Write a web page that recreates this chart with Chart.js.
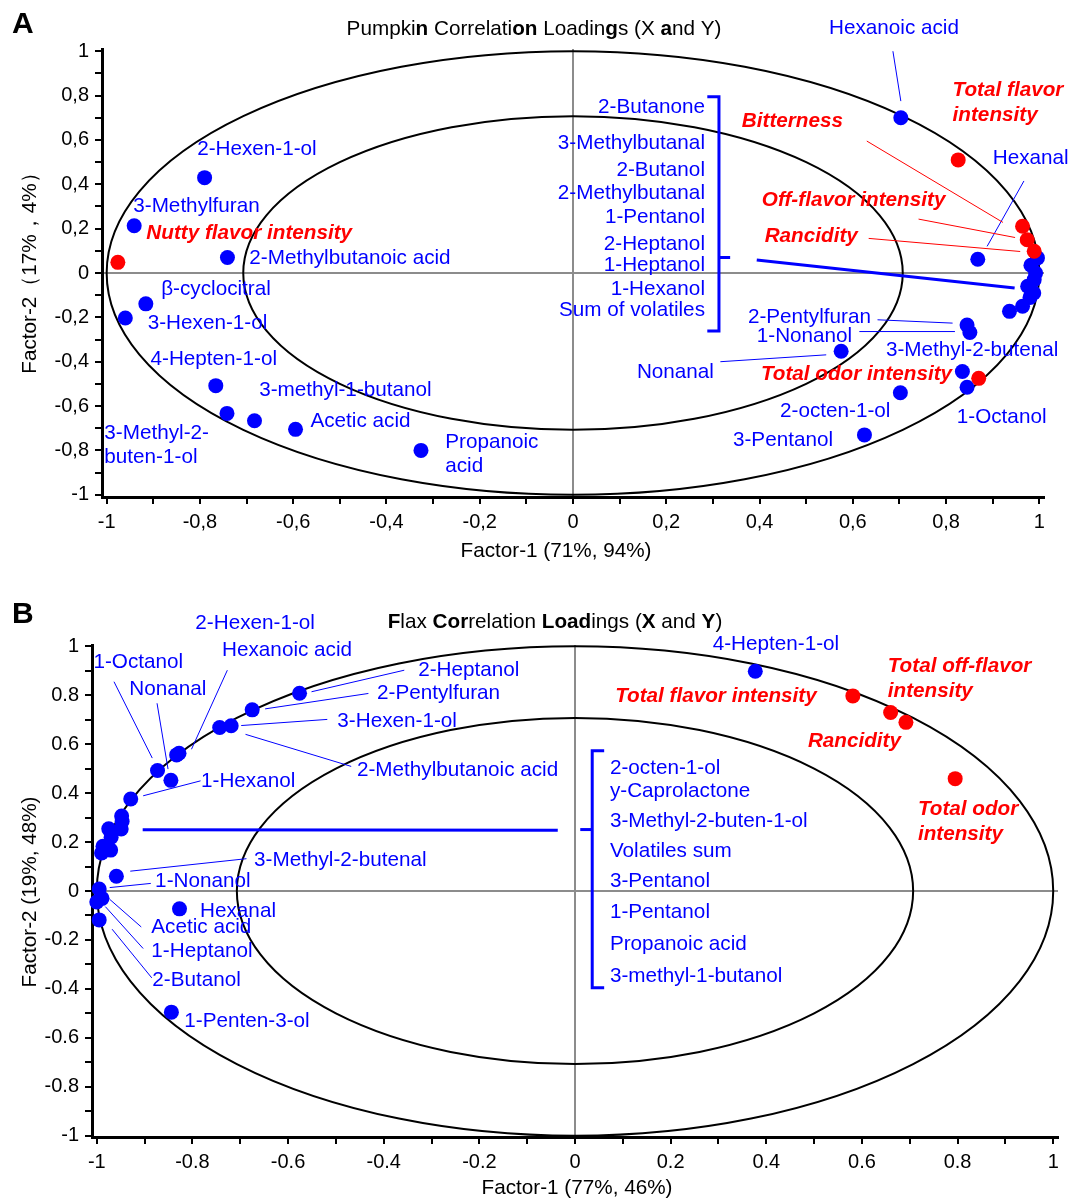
<!DOCTYPE html>
<html>
<head>
<meta charset="utf-8">
<script src="https://cdn.jsdelivr.net/npm/chart.js@4.4.1/dist/chart.umd.min.js"></script>
<style>
  body { margin: 0; background: #fff; }
  canvas { display: block; }
</style>
</head>
<body>
<canvas id="chartA" width="1069" height="590"></canvas>
<canvas id="chartB" width="1069" height="610"></canvas>
<script>
// ---- Panel A: pumpkin loadings ----
const aVolatileX = [0.703, -0.790, -0.941, -0.741, -0.916, -0.960, -0.766, -0.742, -0.683, -0.595, -0.326,
  0.868, 0.575, 0.845, 0.851, 0.835, 0.845, 0.702, 0.625,
  0.982, 0.996, 0.992, 0.989, 0.975, 0.988, 0.980, 0.964, 0.936];
const aVolatileY = [0.700, 0.430, 0.213, 0.070, -0.139, -0.203, -0.508, -0.633, -0.666, -0.705, -0.800,
  0.062, -0.353, -0.235, -0.268, -0.444, -0.515, -0.540, -0.730,
  0.035, 0.068, 0.000, -0.030, -0.060, -0.090, -0.110, -0.150, -0.173];
const aSensoryX = [-0.976, 0.826, 0.964, 0.974, 0.989, 0.870];
const aSensoryY = [0.048, 0.510, 0.211, 0.150, 0.098, -0.475];

// ---- Panel B: flax loadings ----
const bVolatileX = [-0.576, -0.675, -0.743, -0.719, -0.833, -0.828, -0.873, -0.845, -0.929, -0.948, -0.947,
  -0.949, -0.975, -0.970, -0.987, -0.990, -0.971, -0.959, -0.995, -0.989, -1.000, -0.995, -0.827, -0.844, 0.377];
const bVolatileY = [0.808, 0.740, 0.668, 0.675, 0.556, 0.563, 0.492, 0.452, 0.376, 0.306, 0.284,
  0.253, 0.254, 0.220, 0.183, 0.155, 0.167, 0.060, 0.008, -0.030, -0.045, -0.118, -0.073, -0.495, 0.898];
const bSensoryX = [0.581, 0.660, 0.692, 0.795];
const bSensoryY = [0.797, 0.729, 0.689, 0.459];

// ticks and reference circles (100% and 50% explained variance)
const tickValues = [-1, -0.9, -0.8, -0.7, -0.6, -0.5, -0.4, -0.3, -0.2, -0.1, 0,
  0.1, 0.2, 0.3, 0.4, 0.5, 0.6, 0.7, 0.8, 0.9, 1];
const tickLabelsA = ['-1', '', '-0,8', '', '-0,6', '', '-0,4', '', '-0,2', '', '0',
  '', '0,2', '', '0,4', '', '0,6', '', '0,8', '', '1'];
const tickLabelsB = ['-1', '', '-0.8', '', '-0.6', '', '-0.4', '', '-0.2', '', '0',
  '', '0.2', '', '0.4', '', '0.6', '', '0.8', '', '1'];
const circleRadii = [1, 0.7071];

const FONT = '"Liberation Sans", Arial, Helvetica, sans-serif';
const TXT = '20.7px ';
const BLUE = '#0000ff';
const RED = '#ff0000';

// label annotations: [text, x, y, kind]  kind: b = blue, r = red bold italic, bR = blue right aligned
const aLabels = [
  ['Hexanoic acid', 0.549, 1.102, 'b'],
  ['Total flavor', 0.814, 0.826, 'r'], ['intensity', 0.814, 0.713, 'r'],
  ['Bitterness', 0.362, 0.686, 'r'],
  ['Hexanal', 0.900, 0.515, 'b'],
  ['Off-flavor intensity', 0.405, 0.330, 'r'],
  ['Rancidity', 0.411, 0.167, 'r'],
  ['2-Pentylfuran', 0.375, -0.199, 'b'],
  ['1-Nonanol', 0.394, -0.284, 'b'],
  ['3-Methyl-2-butenal', 0.671, -0.348, 'b'],
  ['Nonanal', 0.137, -0.447, 'b'],
  ['Total odor intensity', 0.403, -0.456, 'r'],
  ['1-Octanol', 0.823, -0.650, 'b'],
  ['2-octen-1-ol', 0.444, -0.623, 'b'],
  ['3-Pentanol', 0.343, -0.754, 'b'],
  ['2-Hexen-1-ol', -0.806, 0.560, 'b'],
  ['3-Methylfuran', -0.943, 0.302, 'b'],
  ['Nutty flavor intensity', -0.915, 0.181, 'r'],
  ['2-Methylbutanoic acid', -0.694, 0.068, 'b'],
  ['\u03b2-cyclocitral', -0.883, -0.074, 'b'],
  ['3-Hexen-1-ol', -0.912, -0.226, 'b'],
  ['4-Hepten-1-ol', -0.906, -0.390, 'b'],
  ['3-methyl-1-butanol', -0.673, -0.530, 'b'],
  ['Acetic acid', -0.563, -0.670, 'b'],
  ['3-Methyl-2-', -1.005, -0.723, 'b'], ['buten-1-ol', -1.005, -0.832, 'b'],
  ['Propanoic', -0.274, -0.762, 'b'], ['acid', -0.274, -0.872, 'b'],
  ['2-Butanone', 0.283, 0.749, 'bR'],
  ['3-Methylbutanal', 0.283, 0.587, 'bR'],
  ['2-Butanol', 0.283, 0.465, 'bR'],
  ['2-Methylbutanal', 0.283, 0.361, 'bR'],
  ['1-Pentanol', 0.283, 0.253, 'bR'],
  ['2-Heptanol', 0.283, 0.131, 'bR'],
  ['1-Heptanol', 0.283, 0.036, 'bR'],
  ['1-Hexanol', 0.283, -0.072, 'bR'],
  ['Sum of volatiles', 0.283, -0.167, 'bR']
];
// leader lines: [x1, y1, x2, y2, colour, width]
const aLines = [
  [0.686, 1.0, 0.703, 0.775, BLUE, 1],
  [0.967, 0.415, 0.888, 0.120, BLUE, 1],
  [0.630, 0.595, 0.922, 0.228, RED, 1],
  [0.741, 0.243, 0.948, 0.160, RED, 1],
  [0.634, 0.156, 0.959, 0.097, RED, 1],
  [0.653, -0.211, 0.814, -0.226, BLUE, 1],
  [0.614, -0.264, 0.819, -0.264, BLUE, 1],
  [0.316, -0.400, 0.543, -0.369, BLUE, 1],
  [0.394, 0.059, 0.947, -0.068, BLUE, 3],
  [0.313, 0.070, 0.337, 0.070, BLUE, 3]
];
const aBracket = [[0.288, 0.795], [0.313, 0.795], [0.313, -0.262], [0.288, -0.262]];

const bLabels = [
  ['2-Hexen-1-ol', -0.794, 1.094, 'b'],
  ['Hexanoic acid', -0.738, 0.984, 'b'],
  ['1-Octanol', -1.007, 0.935, 'b'],
  ['Nonanal', -0.932, 0.824, 'b'],
  ['2-Heptanol', -0.328, 0.902, 'b'],
  ['2-Pentylfuran', -0.414, 0.808, 'b'],
  ['3-Hexen-1-ol', -0.497, 0.694, 'b'],
  ['2-Methylbutanoic acid', -0.456, 0.494, 'b'],
  ['1-Hexanol', -0.782, 0.449, 'b'],
  ['3-Methyl-2-butenal', -0.671, 0.127, 'b'],
  ['1-Nonanol', -0.878, 0.041, 'b'],
  ['Hexanal', -0.784, -0.082, 'b'],
  ['Acetic acid', -0.886, -0.147, 'b'],
  ['1-Heptanol', -0.886, -0.245, 'b'],
  ['2-Butanol', -0.884, -0.363, 'b'],
  ['1-Penten-3-ol', -0.817, -0.531, 'b'],
  ['4-Hepten-1-ol', 0.288, 1.008, 'b'],
  ['Total flavor intensity', 0.084, 0.796, 'r'],
  ['Total off-flavor', 0.654, 0.918, 'r'], ['intensity', 0.654, 0.816, 'r'],
  ['Rancidity', 0.487, 0.612, 'r'],
  ['Total odor', 0.717, 0.335, 'r'], ['intensity', 0.717, 0.233, 'r'],
  ['2-octen-1-ol', 0.073, 0.502, 'b'],
  ['y-Caprolactone', 0.073, 0.408, 'b'],
  ['3-Methyl-2-buten-1-ol', 0.073, 0.286, 'b'],
  ['Volatiles sum', 0.073, 0.163, 'b'],
  ['3-Pentanol', 0.073, 0.041, 'b'],
  ['1-Pentanol', 0.073, -0.086, 'b'],
  ['Propanoic acid', 0.073, -0.216, 'b'],
  ['3-methyl-1-butanol', 0.073, -0.347, 'b']
];
const bLines = [
  [-0.964, 0.855, -0.884, 0.543, BLUE, 1],
  [-0.874, 0.767, -0.851, 0.498, BLUE, 1],
  [-0.727, 0.902, -0.802, 0.579, BLUE, 1],
  [-0.357, 0.902, -0.551, 0.814, BLUE, 1],
  [-0.432, 0.807, -0.648, 0.744, BLUE, 1],
  [-0.518, 0.701, -0.698, 0.676, BLUE, 1],
  [-0.468, 0.509, -0.689, 0.640, BLUE, 1],
  [-0.783, 0.450, -0.903, 0.389, BLUE, 1],
  [-0.687, 0.132, -0.930, 0.081, BLUE, 1],
  [-0.887, 0.031, -0.973, 0.014, BLUE, 1],
  [-0.907, -0.147, -0.973, -0.034, BLUE, 1],
  [-0.903, -0.235, -0.982, -0.064, BLUE, 1],
  [-0.885, -0.355, -0.968, -0.156, BLUE, 1],
  [-0.904, 0.250, -0.036, 0.248, BLUE, 3],
  [0.011, 0.251, 0.036, 0.251, BLUE, 3]
];
const bBracket = [[0.061, 0.573], [0.036, 0.573], [0.036, -0.395], [0.061, -0.395]];

function toPoints(xs, ys) {
  return xs.map((v, i) => ({ x: v, y: ys[i] }));
}

function decor(cfg) {
  return {
    id: 'decor',
    beforeDatasetsDraw(chart) {
      const { ctx, scales: { x, y } } = chart;
      const cx = x.getPixelForValue(0), cy = y.getPixelForValue(0);
      ctx.save();
      ctx.strokeStyle = '#000';
      ctx.lineWidth = 2;
      circleRadii.forEach(r => {
        ctx.beginPath();
        ctx.ellipse(cx, cy, x.getPixelForValue(r) - cx, cy - y.getPixelForValue(r), 0, 0, Math.PI * 2);
        ctx.stroke();
      });
      ctx.restore();
    },
    afterDatasetsDraw(chart) {
      const { ctx, scales: { x, y } } = chart;
      const px = v => x.getPixelForValue(v);
      const py = v => y.getPixelForValue(v);
      ctx.save();
      cfg.lines.forEach(([x1, y1, x2, y2, col, w]) => {
        ctx.strokeStyle = col;
        ctx.lineWidth = w;
        ctx.beginPath();
        ctx.moveTo(px(x1), py(y1));
        ctx.lineTo(px(x2), py(y2));
        ctx.stroke();
      });
      // bracket
      ctx.strokeStyle = BLUE;
      ctx.lineWidth = 3;
      ctx.beginPath();
      cfg.bracket.forEach(([bx, by], i) => i ? ctx.lineTo(px(bx), py(by)) : ctx.moveTo(px(bx), py(by)));
      ctx.stroke();
      // labels
      ctx.textBaseline = 'middle';
      cfg.labels.forEach(([t, lx, ly, kind]) => {
        const red = kind[0] === 'r';
        ctx.font = (red ? 'italic bold ' : '') + TXT + FONT;
        ctx.fillStyle = red ? RED : BLUE;
        ctx.textAlign = kind.endsWith('R') ? 'right' : 'left';
        ctx.fillText(t, px(lx), py(ly));
      });
      ctx.restore();
    },
    afterDraw(chart) {
      const ctx = chart.ctx;
      ctx.save();
      ctx.fillStyle = '#000';
      ctx.textBaseline = 'middle';
      // panel letter
      ctx.font = 'bold 30px ' + FONT;
      ctx.textAlign = 'left';
      ctx.fillText(cfg.letter, 12, cfg.letterY);
      // title with mixed weight fragments
      const seg = cfg.title.map(([t, b]) => {
        ctx.font = (b ? 'bold ' : '') + TXT + FONT;
        return [t, b, ctx.measureText(t).width];
      });
      let tx = cfg.titleX - seg.reduce((s, d) => s + d[2], 0) / 2;
      seg.forEach(([t, b, w]) => {
        ctx.font = (b ? 'bold ' : '') + TXT + FONT;
        ctx.fillText(t, tx, cfg.titleY);
        tx += w;
      });
      // axis titles
      ctx.font = TXT + FONT;
      ctx.textAlign = 'center';
      ctx.fillText(cfg.xTitle, cfg.xTitlePos[0], cfg.xTitlePos[1]);
      ctx.translate(cfg.yTitlePos[0], cfg.yTitlePos[1]);
      ctx.rotate(-Math.PI / 2);
      ctx.fillText(cfg.yTitle, 0, 0);
      ctx.restore();
    }
  };
}

function axis(min, max, labels, isX) {
  return {
    type: 'linear',
    min: min,
    max: max,
    afterBuildTicks: s => { s.ticks = tickValues.map(v => ({ value: v })); },
    afterFit: s => { if (isX) s.height = 40; else s.width = 60; },
    border: { display: true, color: '#000', width: 3 },
    grid: {
      color: c => (c.tick && c.tick.value === 0) ? '#8c8c8c' : 'rgba(0,0,0,0)',
      lineWidth: 2,
      drawTicks: true,
      tickLength: 7,
      tickColor: '#000',
      tickWidth: 2
    },
    ticks: {
      callback: (v, i) => labels[i],
      color: '#000',
      font: { family: FONT, size: 20 },
      padding: 6,
      autoSkip: false,
      maxRotation: 0
    }
  };
}

function makeChart(id, blue, red, range, labels, padding, cfg) {
  return new Chart(document.getElementById(id), {
    type: 'scatter',
    data: {
      datasets: [
        { data: red, backgroundColor: RED, borderWidth: 0, pointRadius: 7.5, clip: false },
        { data: blue, backgroundColor: BLUE, borderWidth: 0, pointRadius: 7.5, clip: false }
      ]
    },
    options: {
      responsive: false,
      animation: false,
      events: [],
      layout: { padding: padding },
      plugins: { legend: { display: false }, tooltip: { enabled: false } },
      scales: {
        x: axis(range[0], range[1], labels, true),
        y: axis(range[2], range[3], labels, false)
      }
    },
    plugins: [decor(cfg)]
  });
}

makeChart('chartA',
  toPoints(aVolatileX, aVolatileY), toPoints(aSensoryX, aSensoryY),
  [-1.01, 1.01, -1.01, 1.01], tickLabelsA,
  { left: 42, right: 25, top: 49, bottom: 53 },
  {
    labels: aLabels, lines: aLines, bracket: aBracket,
    letter: 'A', letterY: 25,
    title: [['Pumpki', false], ['n', true], [' Correlati', false], ['on', true], [' Loadin', false],
      ['g', true], ['s (X ', false], ['a', true], ['nd Y)', false]],
    titleX: 534, titleY: 29,
    xTitle: 'Factor-1 (71%, 94%)', xTitlePos: [556, 551],
    yTitle: 'Factor-2\uff0817%\uff0c4%\uff09', yTitlePos: [30, 268]
  });

makeChart('chartB',
  toPoints(bVolatileX, bVolatileY), toPoints(bSensoryX, bSensoryY),
  [-1.01, 1.01, -1.005, 1.005], tickLabelsB,
  { left: 32, right: 11, top: 55, bottom: 23 },
  {
    labels: bLabels, lines: bLines, bracket: bBracket,
    letter: 'B', letterY: 25,
    title: [['F', true], ['lax ', false], ['Cor', true], ['relation ', false], ['Load', true],
      ['ings (', false], ['X', true], [' and ', false], ['Y', true], [')', false]],
    titleX: 555, titleY: 32,
    xTitle: 'Factor-1 (77%, 46%)', xTitlePos: [577, 598],
    yTitle: 'Factor-2 (19%, 48%)', yTitlePos: [30, 302]
  });
</script>
</body>
</html>
